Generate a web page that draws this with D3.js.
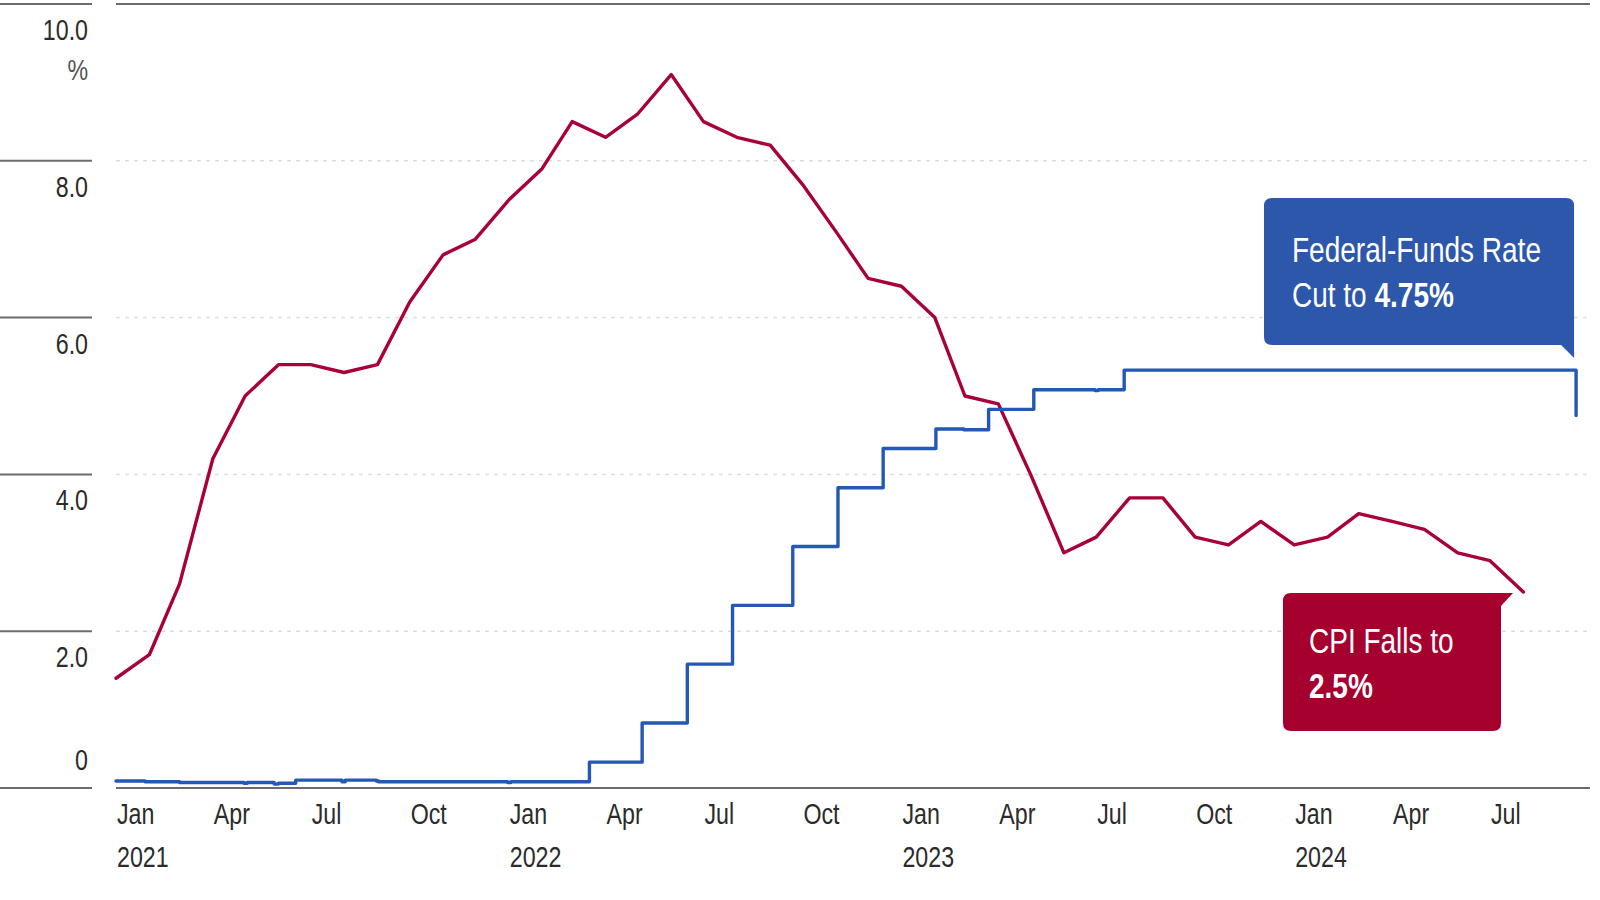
<!DOCTYPE html>
<html>
<head>
<meta charset="utf-8">
<script src="https://cdn.jsdelivr.net/npm/d3@7"></script>
<style>
  html, body { margin: 0; padding: 0; background: #fff; }
  svg { display: block; }
  text { font-family: "Liberation Sans", Arial, sans-serif; }
</style>
</head>
<body>
<svg id="chart" width="1600" height="900"></svg>
<script>
// ---- Data ----
const cpiMonths = [
  "2021-01","2021-02","2021-03","2021-04","2021-05","2021-06","2021-07","2021-08","2021-09","2021-10","2021-11","2021-12",
  "2022-01","2022-02","2022-03","2022-04","2022-05","2022-06","2022-07","2022-08","2022-09","2022-10","2022-11","2022-12",
  "2023-01","2023-02","2023-03","2023-04","2023-05","2023-06","2023-07","2023-08","2023-09","2023-10","2023-11","2023-12",
  "2024-01","2024-02","2024-03","2024-04","2024-05","2024-06","2024-07","2024-08"
];
const cpiValues = [
  1.4, 1.7, 2.6, 4.2, 5.0, 5.4, 5.4, 5.3, 5.4, 6.2, 6.8, 7.0,
  7.5, 7.9, 8.5, 8.3, 8.6, 9.1, 8.5, 8.3, 8.2, 7.7, 7.1, 6.5,
  6.4, 6.0, 5.0, 4.9, 4.0, 3.0, 3.2, 3.7, 3.7, 3.2, 3.1, 3.4,
  3.1, 3.2, 3.5, 3.4, 3.3, 3.0, 2.9, 2.5
];
// Federal-funds (effective) rate change points, drawn as steps
const fedDates = [
  "2021-01-01","2021-01-28","2021-02-03","2021-03-01","2021-04-30","2021-05-03","2021-05-28","2021-06-01","2021-06-17",
  "2021-07-30","2021-08-02","2021-08-31","2021-09-02","2021-10-01","2021-12-31","2022-01-03","2022-03-17",
  "2022-05-05","2022-06-16","2022-07-28","2022-09-22","2022-11-03","2022-12-15",
  "2023-02-02","2023-02-28","2023-03-01","2023-03-23","2023-05-04","2023-06-30","2023-07-03","2023-07-27","2024-09-19"
];
const fedValues = [
  0.09, 0.08, 0.08, 0.07, 0.06, 0.07, 0.05, 0.06, 0.10,
  0.08, 0.10, 0.09, 0.08, 0.08, 0.07, 0.08, 0.33,
  0.83, 1.58, 2.33, 3.08, 3.83, 4.33,
  4.58, 4.57, 4.57, 4.83, 5.08, 5.07, 5.08, 5.33, 4.75
];
const yTicks = [0, 2, 4, 6, 8, 10];
const yTickLabels = ["0", "2.0", "4.0", "6.0", "8.0", "10.0"];
const monthNames = ["Jan","Feb","Mar","Apr","May","Jun","Jul","Aug","Sep","Oct","Nov","Dec"];
const fedNoteLines = [["Federal-Funds Rate", ""], ["Cut to ", "4.75%"]];
const cpiNoteLines = [["CPI Falls to", ""], ["", "2.5%"]];

// ---- Setup ----
const svg = d3.select("#chart");
const parseM = d3.timeParse("%Y-%m");
const parseD = d3.timeParse("%Y-%m-%d");
const cpi = cpiMonths.map((m, i) => ({ date: parseM(m), value: cpiValues[i] }));
const fed = fedDates.map((d, i) => ({ date: parseD(d), value: fedValues[i] }));

const plotLeft = 116, plotRight = 1589;
const x = d3.scaleTime()
  .domain([new Date(2021, 0, 1), new Date(2024, 9, 1)])
  .range([plotLeft, plotRight]);
const y = d3.scaleLinear().domain([0, 10]).range([788, 4]);

const RED = "#A6002F";
const REDLINE = "#A8003A";
const BLUE = "#2C57AB";
const BLUELINE = "#2358B4";
const SX = 0.8; // horizontal condensing of text to mimic a condensed face

// condensed text helper
function ctext(parent, tx, ty, size, anchor, sx) {
  return parent.append("text")
    .attr("transform", `translate(${tx},${ty}) scale(${sx || SX},1)`)
    .attr("x", 0).attr("y", 0)
    .attr("font-size", size)
    .attr("text-anchor", anchor || "start");
}

// ---- Y gridlines / axis ----
const grid = svg.append("g");
yTicks.forEach((t, i) => {
  const yy = y(t);
  const solid = (t === 0 || t === 10);
  grid.append("line").attr("x1", 0).attr("x2", 92).attr("y1", yy).attr("y2", yy)
    .attr("stroke", "#6b6b6b").attr("stroke-width", 2);
  grid.append("line").attr("x1", plotLeft).attr("x2", plotRight + 1).attr("y1", yy).attr("y2", yy)
    .attr("stroke", solid ? "#6b6b6b" : "#dcdcdc")
    .attr("stroke-width", solid ? 2 : 1.5)
    .attr("stroke-dasharray", solid ? null : "4,5");
  ctext(grid, 88, t === 0 ? yy - 18 : yy + 36, 29, "end")
    .attr("fill", "#2b2b2b")
    .text(yTickLabels[i]);
});
ctext(svg, 88, 80, 29, "end").attr("fill", "#555").text("%");

// ---- X axis labels ----
const xTicks = x.ticks(d3.timeMonth.every(3)).filter(d => d < new Date(2024, 8, 1));
const xg = svg.append("g");
xTicks.forEach(d => {
  ctext(xg, x(d) + 1, 824, 29).attr("fill", "#2b2b2b").text(monthNames[d.getMonth()]);
  if (d.getMonth() === 0) {
    ctext(xg, x(d) + 1, 867, 29).attr("fill", "#2b2b2b").text(d.getFullYear());
  }
});

// ---- Lines ----
const cpiLine = d3.line().x(d => x(d.date)).y(d => y(d.value));
svg.append("path").datum(cpi)
  .attr("d", cpiLine)
  .attr("fill", "none").attr("stroke", REDLINE).attr("stroke-width", 3.4)
  .attr("stroke-linejoin", "round").attr("stroke-linecap", "round");

const fedLine = d3.line().x(d => x(d.date)).y(d => y(d.value)).curve(d3.curveStepAfter);
svg.append("path").datum(fed)
  .attr("d", fedLine)
  .attr("fill", "none").attr("stroke", BLUELINE).attr("stroke-width", 3.4)
  .attr("stroke-linejoin", "round").attr("stroke-linecap", "round");

// ---- Callouts ----
function addNote(lines, color, box, tail, textX, baselines) {
  const g = svg.append("g");
  const r = 8;
  const { x0, y0, x1, y1 } = box;
  let p;
  if (tail === "bottomRight") {
    p = `M${x0 + r},${y0} H${x1 - r} Q${x1},${y0} ${x1},${y0 + r} V${y1 + 13} L${x1 - 13},${y1} H${x0 + r} Q${x0},${y1} ${x0},${y1 - r} V${y0 + r} Q${x0},${y0} ${x0 + r},${y0} Z`;
  } else {
    p = `M${x0 + r},${y0} H${x1 + 12} L${x1},${y0 + 13} V${y1 - r} Q${x1},${y1} ${x1 - r},${y1} H${x0 + r} Q${x0},${y1} ${x0},${y1 - r} V${y0 + r} Q${x0},${y0} ${x0 + r},${y0} Z`;
  }
  g.append("path").attr("d", p).attr("fill", color);
  lines.forEach((ln, i) => {
    const t = ctext(g, textX, baselines[i], 35, "start", 0.8).attr("fill", "#fff");
    if (ln[0]) t.append("tspan").text(ln[0]);
    if (ln[1]) t.append("tspan").attr("font-weight", "bold").text(ln[1]);
  });
}
const fedEnd = fed[fed.length - 1];
const cpiEnd = cpi[cpi.length - 1];
addNote(fedNoteLines, BLUE,
  { x0: 1264, y0: 198, x1: x(fedEnd.date) - 2, y1: 345 }, "bottomRight", 1292, [262, 307]);
addNote(cpiNoteLines, RED,
  { x0: 1283, y0: y(cpiEnd.value) + 1, x1: 1501, y1: 731 }, "topRight", 1309, [653, 698]);
</script>
</body>
</html>
